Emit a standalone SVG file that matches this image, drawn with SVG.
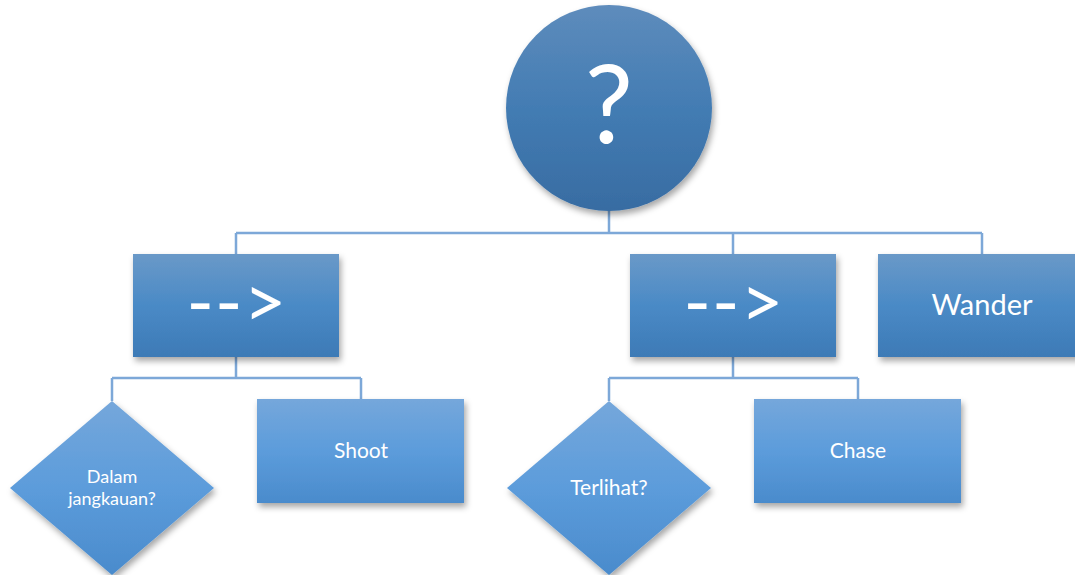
<svg xmlns="http://www.w3.org/2000/svg" width="1075" height="575" viewBox="0 0 1075 575">
<style>
text{font-family:Lato,"Open Sans","Liberation Sans",sans-serif;fill:#ffffff;text-anchor:middle}
.conn{fill:none;stroke:#7da8d8;stroke-width:2.5}
.l1{fill:url(#g1);filter:url(#sh)}
.l2{fill:url(#g2);filter:url(#sh)}
.arr{font-size:74px;letter-spacing:1px}
</style>
<defs>
<linearGradient id="g0" x1="0" y1="0" x2="0" y2="1"><stop offset="0" stop-color="#5e8cbc"/><stop offset="0.5" stop-color="#437cb3"/><stop offset="1" stop-color="#386ca2"/></linearGradient>
<linearGradient id="g1" x1="0" y1="0" x2="0" y2="1"><stop offset="0" stop-color="#6a99c8"/><stop offset="0.5" stop-color="#4a8ac6"/><stop offset="1" stop-color="#3d7ab6"/></linearGradient>
<linearGradient id="g2" x1="0" y1="0" x2="0" y2="1"><stop offset="0" stop-color="#75a7db"/><stop offset="0.5" stop-color="#5c9cdb"/><stop offset="1" stop-color="#4a8bcc"/></linearGradient>
<filter id="sh" x="-20%" y="-20%" width="140%" height="150%"><feDropShadow dx="2" dy="4" stdDeviation="3" flood-color="#000" flood-opacity="0.35"/></filter>
</defs>
<g id="connectors">
<path class="conn" d="M609 210V233M236 233H982M236 233V254M733 233V254M982 233V254"/>
<path class="conn" d="M236 357V378M112 378H361M112 378V401M361 378V399"/>
<path class="conn" d="M733 357V378M609 378H858M609 378V401M858 378V399"/>
</g>
<g id="root"><circle cx="609" cy="108" r="103" fill="url(#g0)" filter="url(#sh)"/><text x="609" y="143" font-size="108">?</text></g>
<g id="seq1"><rect class="l1" x="133" y="254" width="206" height="103"/><text class="arr" x="237" y="328">--&gt;</text></g>
<g id="seq2"><rect class="l1" x="630" y="254" width="206" height="103"/><text class="arr" x="734" y="328">--&gt;</text></g>
<g id="wander"><rect class="l1" x="878" y="254" width="206" height="103"/><text x="982" y="315" font-size="29">Wander</text></g>
<g id="dalam"><path class="l2" d="M112 401L214 488L112 575L10 488Z"/><text x="112" y="483" font-size="18">Dalam</text><text x="112" y="505" font-size="18">jangkauan?</text></g>
<g id="shoot"><rect class="l2" x="257" y="399" width="207" height="104"/><text x="361" y="458" font-size="21">Shoot</text></g>
<g id="terlihat"><path class="l2" d="M609 401L711 488L609 575L507 488Z"/><text x="609" y="495" font-size="21">Terlihat?</text></g>
<g id="chase"><rect class="l2" x="754" y="399" width="207" height="104"/><text x="858" y="458" font-size="21">Chase</text></g>
</svg>
